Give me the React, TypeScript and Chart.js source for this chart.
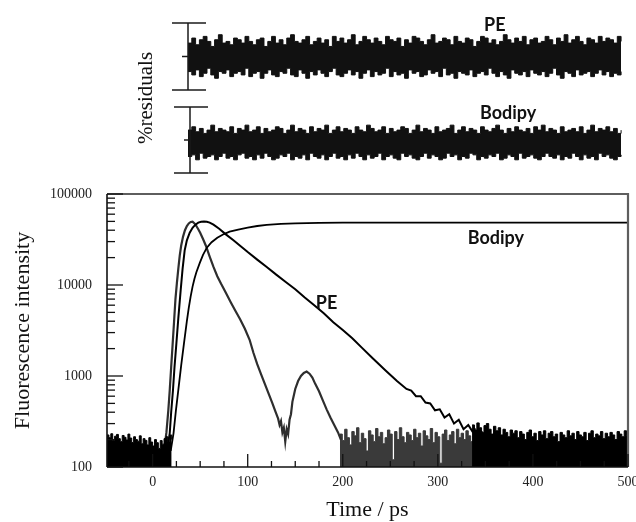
import React, { useEffect, useRef } from 'react';
import { Chart, registerables } from 'chart.js';

Chart.register(...registerables);

// ---------- helpers ----------
const range = (start: number, step: number, count: number) =>
  Array.from({ length: count }, (_, i) => +(start + i * step).toFixed(2));
const pts = (t: number[], v: number[]) =>
  t.slice(0, Math.min(t.length, v.length)).map((x, i) => ({ x, y: v[i] }));

// ---------- main decay panel data ----------
const xLabelTicks = [0, 100, 200, 300, 400, 500];
const xMinorTicks = [-25, 25, 50, 75, 125, 150, 175, 225, 250, 275, 325, 350, 375, 425, 450, 475];
const yLabelTicks = [100, 1000, 10000, 100000];
const yMinorMultipliers = [2, 3, 4, 5, 6, 7, 8, 9];

// pre-rise background noise (black)
const preNoiseT = range(-48, 2, 35);
const preNoiseV = [
  225, 210, 232, 195, 218, 228, 205, 190, 222, 212,
  198, 230, 208, 186, 215, 200, 192, 220, 180, 205,
  196, 175, 210, 188, 170, 200, 185, 160, 195, 178,
  205, 215, 190, 225, 200,
];

// instrument response (grey)
const irfT = [
  12, 14.5, 16.5, 18, 19.5, 21, 22.5, 24, 25.5, 27,
  28.5, 30, 32, 34, 36, 38, 40, 42, 44, 46,
  48, 50, 53, 56, 60, 64, 68, 72, 77, 82,
  87, 92, 97, 102, 106, 110, 114, 118, 122, 126,
  129, 132, 133.5, 135, 136.5, 138, 139.5, 141, 142.5, 144,
  145.5, 147, 150, 153, 156, 159, 162, 165, 168, 171,
  175, 179, 183, 187, 191, 195, 198,
];
const irfV = [
  150, 240, 420, 700, 1250, 2200, 3900, 7000, 10500, 15000,
  21000, 27000, 34000, 40000, 44500, 47500, 49300, 49600, 47500, 44500,
  41000, 37500, 32000, 27000, 20500, 15800, 12500, 10300, 8200, 6500,
  5200, 4200, 3300, 2500, 1800, 1350, 1050, 820, 640, 500,
  410, 340, 290, 320, 240, 270, 190, 260, 230, 330,
  380, 520, 720, 880, 1000, 1080, 1120, 1060, 960, 820,
  680, 540, 430, 350, 290, 240, 200,
];
const irfNoiseT = range(197, 2.5, 66);
const irfNoiseV = [
  230, 195, 260, 210, 175, 245, 220, 270, 185, 235,
  205, 150, 250, 225, 190, 265, 215, 240, 180, 210,
  255, 230, 120, 245, 200, 270, 215, 185, 240, 225,
  195, 260, 210, 235, 170, 250, 220, 200, 265, 185,
  240, 215, 110, 230, 255, 195, 225, 245, 180, 260,
  210, 235, 200, 250, 220, 190, 265, 230, 205, 245,
  215, 185, 255, 225, 200, 240,
];

// PE decay (black)
const peT = [
  15, 18, 19.5, 21.4, 23, 25, 27, 29.5, 31.5, 33.7,
  36, 39, 42, 45, 48, 51, 54, 57, 60, 64,
  70, 77, 85, 92, 100, 110, 120, 130, 140, 150,
  160, 170, 180, 190, 200, 210, 220, 232, 245, 257,
  267, 272, 277, 282, 287, 292, 297, 302, 307, 312,
  317, 322, 327, 332, 337,
];
const peV = [
  150, 236, 400, 700, 1250, 2300, 4300, 8800, 15000, 24000,
  31000, 37500, 42500, 46000, 48500, 49600, 49800, 49500, 48500, 46000,
  41500, 36000, 31000, 27000, 23000, 19000, 15800, 13000, 10800, 9000,
  7300, 6000, 4900, 3900, 3200, 2600, 2050, 1550, 1150, 880,
  720, 690, 600, 600, 510, 500, 420, 430, 350, 380,
  300, 330, 260, 290, 240,
];
const peNoiseT = range(336, 2.5, 67);
const peNoiseV = [
  290, 255, 305, 270, 240, 285, 300, 260, 230, 280,
  250, 270, 225, 260, 240, 215, 255, 235, 250, 210,
  245, 230, 200, 240, 255, 215, 235, 195, 245, 225,
  250, 205, 235, 245, 215, 230, 190, 240, 225, 210,
  250, 220, 235, 200, 245, 225, 215, 240, 195, 235,
  250, 210, 230, 220, 245, 205, 235, 215, 240, 225,
  200, 245, 230, 215, 250, 220, 235,
];

// Bodipy rise (black)
const bodT = [
  19, 22, 24.5, 27, 30, 33, 36, 38, 40, 42,
  44, 46, 49.5, 53, 57, 62, 68, 75, 81, 90,
  100, 110, 120, 135, 150, 175, 200, 300, 400, 500,
];
const bodV = [
  150, 236, 420, 700, 1300, 2300, 4000, 5600, 7500, 9600,
  11700, 13800, 17400, 21400, 25700, 29500, 33100, 36300, 38500, 40700,
  42700, 44500, 45700, 47000, 47600, 48200, 48400, 48400, 48400, 48400,
];

// in-plot labels (data coordinates)
const mainLabelText = ['PE', 'Bodipy'];
const mainLabelX = [183, 361];
const mainLabelY = [6340, 32800];

// ---------- residual panels data ----------
const RES_R = 20;
const resT = range(37, 4, 115);
const res1Hi = [
  8, 11, 7, 10, 12, 9, 6, 10, 13, 8,
  9, 7, 11, 10, 8, 12, 9, 7, 10, 11,
  6, 9, 12, 8, 10, 7, 11, 13, 9, 8,
  10, 12, 7, 9, 11, 8, 10, 6, 12, 9,
  11, 8, 10, 13, 7, 9, 12, 10, 8, 11,
  9, 7, 12, 10, 9, 11, 6, 10, 8, 12,
  11, 9, 7, 10, 13, 8, 9, 11, 10, 7,
  12, 9, 8, 11, 10, 6, 9, 12, 11, 8,
  10, 7, 9, 13, 10, 8, 11, 9, 12, 7,
  10, 11, 8, 9, 12, 10, 7, 11, 9, 13,
  8, 10, 12, 9, 7, 11, 10, 8, 12, 9,
  11, 10, 8, 12, 9,
];
const res1Lo = [
  -9, -11, -8, -12, -10, -7, -11, -13, -9, -10,
  -8, -12, -10, -9, -11, -7, -12, -10, -9, -13,
  -10, -8, -11, -12, -9, -10, -7, -11, -12, -8,
  -10, -13, -9, -11, -8, -10, -12, -9, -7, -11,
  -12, -10, -8, -11, -9, -13, -10, -8, -12, -9,
  -11, -10, -7, -12, -9, -11, -10, -13, -8, -10,
  -9, -12, -11, -8, -10, -9, -12, -7, -11, -10,
  -13, -9, -10, -11, -8, -12, -10, -9, -11, -7,
  -10, -12, -9, -11, -13, -8, -10, -11, -9, -12,
  -8, -10, -11, -9, -12, -10, -7, -11, -13, -9,
  -10, -12, -8, -11, -10, -9, -12, -10, -8, -11,
  -9, -12, -10, -11, -9,
];
const res2Hi = [
  6, 8, 5, 7, 4, 6, 9, 5, 7, 6,
  5, 8, 4, 7, 6, 9, 5, 6, 8, 4,
  7, 5, 6, 8, 7, 4, 6, 9, 5, 7,
  6, 4, 8, 5, 7, 6, 9, 4, 6, 8,
  5, 7, 6, 4, 8, 6, 5, 9, 7, 5,
  6, 8, 4, 7, 5, 6, 8, 7, 4, 6,
  9, 5, 7, 6, 4, 8, 5, 6, 7, 9,
  4, 6, 8, 5, 7, 6, 4, 8, 6, 5,
  7, 9, 6, 4, 7, 5, 8, 6, 5, 7,
  4, 8, 6, 9, 5, 7, 6, 4, 8, 5,
  6, 7, 5, 8, 4, 6, 9, 5, 7, 6,
  8, 5, 7, 4, 6,
];
const res2Lo = [
  -10, -9, -12, -8, -11, -10, -9, -12, -10, -8,
  -11, -10, -12, -9, -8, -11, -10, -12, -9, -11,
  -8, -10, -12, -11, -9, -10, -8, -12, -10, -11,
  -9, -12, -8, -10, -11, -9, -12, -10, -8, -11,
  -10, -12, -9, -11, -8, -10, -12, -9, -11, -10,
  -8, -12, -10, -9, -11, -12, -8, -10, -9, -11,
  -12, -10, -8, -11, -9, -10, -12, -11, -8, -10,
  -9, -12, -10, -11, -8, -9, -12, -10, -11, -9,
  -10, -8, -12, -11, -9, -10, -12, -8, -11, -10,
  -9, -11, -12, -10, -8, -10, -11, -9, -12, -10,
  -11, -8, -10, -12, -9, -11, -10, -12, -8, -10,
  -9, -11, -12, -10, -9,
];
const resLabelText = ['PE', 'Bodipy'];
const resLabelAxis = ['r1', 'r2'];
const resLabelX = [360, 374];
const resLabelY = [18.8, 16.4];

// ---------- layout (pixels) ----------
const RES_AREA = { top: 23, bottom: 173 };
const PANEL1 = { top: 23, bottom: 90 };
const PANEL2 = { top: 107, bottom: 173 };
const k1 = (PANEL1.bottom - PANEL1.top) / (2 * RES_R);
const k2 = (PANEL2.bottom - PANEL2.top) / (2 * RES_R);
const r1Max = RES_R + (PANEL1.top - RES_AREA.top) / k1;
const r1Min = -RES_R - (RES_AREA.bottom - PANEL1.bottom) / k1;
const r2Min = -RES_R - (RES_AREA.bottom - PANEL2.bottom) / k2;
const r2Max = RES_R + (PANEL2.top - RES_AREA.top) / k2;

const SERIF = "'Liberation Serif', 'DejaVu Serif', serif";
const LABEL_FONT = "bold 18px Lato, 'Open Sans', sans-serif";

const line = (ctx: CanvasRenderingContext2D, x1: number, y1: number, x2: number, y2: number) => {
  ctx.beginPath();
  ctx.moveTo(x1, y1);
  ctx.lineTo(x2, y2);
  ctx.stroke();
};

const mainDecor = {
  id: 'mainDecor',
  afterDraw(chart: any) {
    const { ctx, chartArea: a, scales } = chart;
    const x = scales.x;
    const y = scales.y;
    ctx.save();
    ctx.strokeStyle = '#5e5e5e';
    ctx.lineWidth = 2.2;
    ctx.beginPath();
    ctx.moveTo(a.left, a.top);
    ctx.lineTo(a.right, a.top);
    ctx.lineTo(a.right, a.bottom);
    ctx.stroke();
    ctx.strokeStyle = '#111';
    ctx.lineWidth = 1.6;
    line(ctx, a.left, a.top, a.left, a.bottom);
    line(ctx, a.left, a.bottom, a.right, a.bottom);
    ctx.lineWidth = 1.3;
    yLabelTicks.forEach((v) => {
      const p = y.getPixelForValue(v);
      line(ctx, a.left, p, a.left + 16, p);
    });
    yLabelTicks.slice(0, -1).forEach((d) => {
      yMinorMultipliers.forEach((m) => {
        const p = y.getPixelForValue(d * m);
        line(ctx, a.left, p, a.left + 8, p);
      });
    });
    xLabelTicks.forEach((v) => {
      const p = x.getPixelForValue(v);
      line(ctx, p, a.bottom, p, a.bottom - 13);
    });
    xMinorTicks.forEach((v) => {
      const p = x.getPixelForValue(v);
      line(ctx, p, a.bottom, p, a.bottom - 6);
    });
    ctx.fillStyle = '#111';
    ctx.font = LABEL_FONT;
    ctx.textAlign = 'center';
    ctx.textBaseline = 'middle';
    mainLabelText.forEach((t, i) => {
      ctx.fillText(t, x.getPixelForValue(mainLabelX[i]), y.getPixelForValue(mainLabelY[i]));
    });
    ctx.restore();
  },
};

const resDecor = {
  id: 'resDecor',
  afterDraw(chart: any) {
    const { ctx, chartArea: a, scales } = chart;
    ctx.save();
    ctx.strokeStyle = '#1a1a1a';
    ctx.lineWidth = 1.5;
    [
      ['r1', 0],
      ['r2', 2],
    ].forEach(([id, dx]: any) => {
      const s = scales[id];
      const top = s.getPixelForValue(RES_R);
      const mid = s.getPixelForValue(0);
      const bot = s.getPixelForValue(-RES_R);
      const x0 = a.left + dx;
      line(ctx, x0, top, x0, bot);
      line(ctx, x0 - 16, top, x0 + 18, top);
      line(ctx, x0 - 16, bot, x0 + 18, bot);
      line(ctx, x0 - 6, mid, x0, mid);
    });
    ctx.fillStyle = '#111';
    ctx.font = LABEL_FONT;
    ctx.textAlign = 'center';
    ctx.textBaseline = 'middle';
    resLabelText.forEach((t, i) => {
      ctx.fillText(
        t,
        scales.x.getPixelForValue(resLabelX[i]),
        scales[resLabelAxis[i]].getPixelForValue(resLabelY[i])
      );
    });
    ctx.restore();
  },
};

const noiseSet = (data: any, color: string) => ({
  data,
  borderColor: color,
  backgroundColor: color,
  borderWidth: 1,
  fill: 'start',
  stepped: true,
  pointRadius: 0,
  tension: 0,
});
const curveSet = (data: any, color: string, width: number) => ({
  data,
  borderColor: color,
  backgroundColor: color,
  borderWidth: width,
  fill: false,
  pointRadius: 0,
  tension: 0,
});

export default function App() {
  const resRef = useRef<HTMLCanvasElement>(null);
  const mainRef = useRef<HTMLCanvasElement>(null);

  useEffect(() => {
    const resChart = new Chart(resRef.current as HTMLCanvasElement, {
      type: 'line',
      data: {
        datasets: [
          { ...curveSet(pts(resT, res1Hi), '#111', 1), stepped: true, fill: '+1', yAxisID: 'r1', xAxisID: 'x' },
          { ...curveSet(pts(resT, res1Lo), '#111', 1), stepped: true, yAxisID: 'r1', xAxisID: 'x' },
          { ...curveSet(pts(resT, res2Hi), '#111', 1), stepped: true, fill: '+1', yAxisID: 'r2', xAxisID: 'x' },
          { ...curveSet(pts(resT, res2Lo), '#111', 1), stepped: true, yAxisID: 'r2', xAxisID: 'x' },
        ] as any,
      },
      options: {
        responsive: false,
        animation: false,
        events: [],
        layout: { padding: { left: 0, right: 13, top: RES_AREA.top, bottom: 180 - RES_AREA.bottom } },
        plugins: { legend: { display: false }, tooltip: { enabled: false } },
        scales: {
          x: { type: 'linear', min: 37, max: 495, display: false },
          yt: {
            type: 'linear',
            position: 'left',
            min: 0,
            max: 1,
            ticks: { display: false },
            grid: { display: false, drawTicks: false },
            border: { display: false },
            title: {
              display: true,
              text: '%residuals',
              color: '#111',
              font: { family: SERIF, size: 21 },
              padding: { top: 134, bottom: 0 },
            },
            afterFit: (s: any) => {
              s.width = 188;
            },
          },
          r1: { type: 'linear', position: 'left', display: false, min: r1Min, max: r1Max },
          r2: { type: 'linear', position: 'left', display: false, min: r2Min, max: r2Max },
        } as any,
      },
      plugins: [resDecor],
    });

    const mainChart = new Chart(mainRef.current as HTMLCanvasElement, {
      type: 'line',
      data: {
        datasets: [
          noiseSet(pts(preNoiseT, preNoiseV), '#000'),
          noiseSet(pts(peNoiseT, peNoiseV), '#000'),
          curveSet(pts(peT, peV), '#000', 2),
          curveSet(pts(bodT, bodV), '#000', 1.8),
          curveSet(pts(irfT, irfV), '#2e2e2e', 2.2),
          noiseSet(pts(irfNoiseT, irfNoiseV), '#3a3a3a'),
        ] as any,
      },
      options: {
        responsive: false,
        animation: false,
        events: [],
        layout: { padding: { left: 0, right: 8, top: 14, bottom: 0 } },
        plugins: { legend: { display: false }, tooltip: { enabled: false } },
        scales: {
          x: {
            type: 'linear',
            min: -48,
            max: 500,
            afterBuildTicks: (s: any) => {
              s.ticks = xLabelTicks.map((v) => ({ value: v }));
            },
            afterFit: (s: any) => {
              s.height = 55;
              s.paddingLeft = 0;
              s.paddingRight = 0;
            },
            grid: { display: false, drawTicks: false },
            border: { display: false },
            ticks: {
              padding: 7,
              autoSkip: false,
              maxRotation: 0,
              color: '#222',
              font: { family: SERIF, size: 14 },
              callback: (v: any) => String(v),
            },
            title: {
              display: true,
              text: 'Time / ps',
              color: '#111',
              font: { family: SERIF, size: 22, lineHeight: 1.1 },
              padding: { top: 0, bottom: 0 },
            },
          },
          y: {
            type: 'logarithmic',
            min: 100,
            max: 100000,
            afterBuildTicks: (s: any) => {
              s.ticks = yLabelTicks.map((v) => ({ value: v }));
            },
            afterFit: (s: any) => {
              s.width = 107;
              s.paddingTop = 0;
              s.paddingBottom = 0;
            },
            grid: { display: false, drawTicks: false },
            border: { display: false },
            ticks: {
              padding: 15,
              autoSkip: false,
              color: '#222',
              font: { family: SERIF, size: 14 },
              callback: (v: any) => String(v),
            },
            title: {
              display: true,
              text: 'Fluorescence intensity',
              color: '#111',
              font: { family: SERIF, size: 22 },
              padding: { top: 10, bottom: 0 },
            },
          },
        } as any,
      },
      plugins: [mainDecor],
    });

    return () => {
      resChart.destroy();
      mainChart.destroy();
    };
  }, []);

  return (
    <div style={{ position: 'absolute', left: 0, top: 0, width: 636, height: 522, background: '#fff' }}>
      <canvas
        ref={resRef}
        width={636}
        height={180}
        style={{ position: 'absolute', left: 0, top: 0, display: 'block' }}
      />
      <canvas
        ref={mainRef}
        width={636}
        height={342}
        style={{ position: 'absolute', left: 0, top: 180, display: 'block' }}
      />
    </div>
  );
}
